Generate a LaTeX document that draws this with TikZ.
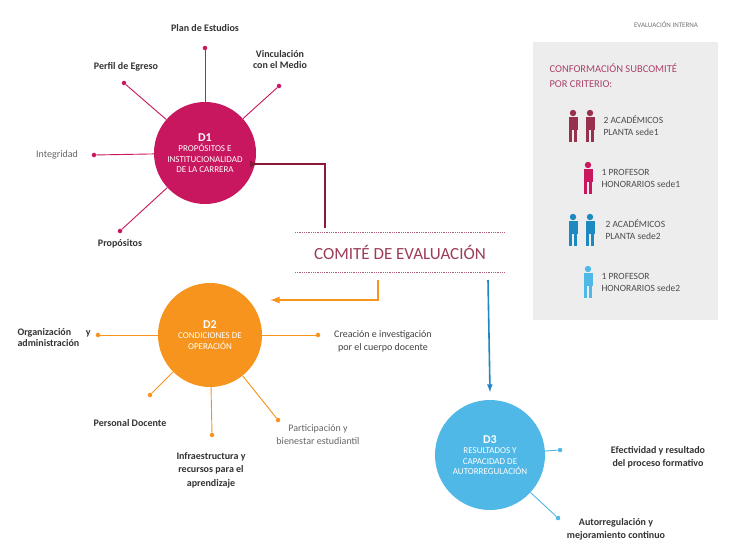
\documentclass[tikz,border=0pt]{standalone}
\usepackage{fontspec}
\setmainfont{Carlito}
\begin{document}
\begin{tikzpicture}[x=1pt,y=-1pt,
 lbl/.style={font=\fontsize{10}{11}\selectfont\bfseries,text=black!80,align=center},
 lblr/.style={font=\fontsize{10}{11}\selectfont,text=black!60,align=center},
 circtxt/.style={circle,text=white,align=center,font=\fontsize{9}{10.5}\selectfont},
 spoke/.style={line width=0.9pt},
 dot/.style={circle,fill,inner sep=1.6pt},
 ptxt/.style={font=\fontsize{9.5}{12}\selectfont,text=black!70,align=left,anchor=west},
 pics/person/.style={code={
   \fill (0,-13) circle (3.2);
   \fill (-4.5,-9) rectangle (4.5,4);
   \fill (-4,3) rectangle (-0.6,16);
   \fill (0.6,3) rectangle (4,16);}}]
\definecolor{mag}{HTML}{C8175E}
\definecolor{dred}{HTML}{8B1A3A}
\definecolor{ora}{HTML}{F7941D}
\definecolor{dblue}{HTML}{1E88C0}
\definecolor{lblue}{HTML}{50B8E6}
\useasboundingbox (0,0) rectangle (744,559);
\fill[white] (0,0) rectangle (744,559);
% right panel
\fill[black!7] (533,42) rectangle (718,320);
\node[font=\fontsize{7}{8}\selectfont,text=black!55] (ei) at (666,25) {EVALUACIÓN INTERNA};
\node[ptxt,text=mag!75!black!80,font=\fontsize{10.5}{15}\selectfont] (tt) at (546,76) {CONFORMACIÓN SUBCOMITÉ\\POR CRITERIO:};
\pic[fill=dred!90] at (573,126) {person};
\pic[fill=dred!90] at (590,126) {person};
\node[ptxt] (p1) at (600,126) {2 ACADÉMICOS\\PLANTA sede1};
\pic[fill=mag] at (588,178) {person};
\node[ptxt] (p2) at (598,178) {1 PROFESOR\\HONORARIOS sede1};
\pic[fill=dblue] at (573,230) {person};
\pic[fill=dblue] at (590,230) {person};
\node[ptxt] (p3) at (602,230) {2 ACADÉMICOS\\PLANTA sede2};
\pic[fill=lblue] at (588,282) {person};
\node[ptxt] (p4) at (598,282) {1 PROFESOR\\HONORARIOS sede2};
% circles
\node[circtxt,fill=mag,minimum size=102] (d1) at (205,153) {\textbf{\fontsize{12}{13}\selectfont D1}\\PROPÓSITOS E\\INSTITUCIONALIDAD\\DE LA CARRERA};
\node[circtxt,fill=ora,minimum size=104] (d2) at (210,335) {\textbf{\fontsize{12}{13}\selectfont D2}\\CONDICIONES DE\\OPERACIÓN};
\node[circtxt,fill=lblue,minimum size=110] (d3) at (490,455) {\textbf{\fontsize{12}{13}\selectfont D3}\\RESULTADOS Y\\CAPACIDAD DE\\AUTORREGULACIÓN};
% D1 spokes
\begin{scope}[mag]
\node[dot] (a1) at (205,48) {}; \node[lbl] (la1) at (205,28) {Plan de Estudios};
\node[dot] (a2) at (124,83) {}; \node[lbl] (la2) at (126,67) {Perfil de Egreso};
\node[dot] (a3) at (279,86) {}; \node[lbl] (la3) at (280,60) {Vinculación\\con el Medio};
\node[dot] (a4) at (94,155) {}; \node[lblr] (la4) at (57,155) {Integridad};
\node[dot] (a5) at (120,231) {}; \node[lbl] (la5) at (120,244) {Propósitos};
\foreach \n in {a1,a2,a3,a4,a5} \draw[spoke] (d1) -- (\n);
\end{scope}
% D2 spokes
\begin{scope}[ora]
\node[dot] (b1) at (98,335) {}; \node[lbl,align=left,anchor=west] (lb1) at (14,338) {Organización\quad\ \ y\\administración};
\node[dot] (b2) at (318,335) {}; \node[lblr,font=\fontsize{10}{13}\selectfont,text=black!75] (lb2) at (383,341) {Creación e investigación\\por el cuerpo docente};
\node[dot] (b3) at (150,395) {}; \node[lbl] (lb3) at (130,423) {Personal Docente};
\node[dot] (b4) at (212,435) {}; \node[lbl,font=\fontsize{10}{13.5}\selectfont\bfseries] (lb4) at (211,470) {Infraestructura y\\recursos para el\\aprendizaje};
\node[dot] (b5) at (278,420) {}; \node[lblr,font=\fontsize{10}{13}\selectfont] (lb5) at (318,435) {Participación y\\bienestar estudiantil};
\foreach \n in {b1,b2,b3,b4,b5} \draw[spoke] (d2) -- (\n);
\end{scope}
% D3 spokes
\begin{scope}[lblue]
\node[dot] (c1) at (560,450) {}; \node[lbl,font=\fontsize{10}{13}\selectfont\bfseries] (lc1) at (658,457) {Efectividad y resultado\\del proceso formativo};
\node[dot] (c2) at (558,518) {}; \node[lbl,font=\fontsize{10}{13}\selectfont\bfseries] (lc2) at (616,529) {Autorregulación y\\mejoramiento continuo};
\foreach \n in {c1,c2} \draw[spoke] (d3) -- (\n);
\end{scope}
% comite
\node[text=dred!85,font=\fontsize{17}{18}\selectfont] (com) at (400,252) {COMITÉ DE EVALUACIÓN};
\coordinate (cl1) at (295,232); \coordinate (cr1) at (505,232);
\coordinate (cl2) at (295,272); \coordinate (cr2) at (505,272);
\draw[dred!70,densely dotted,line width=0.8pt] (cl1) -- (cr1) (cl2) -- (cr2);
\coordinate (s1) at (325,228); \coordinate (s2) at (378,280); \coordinate (s3) at (488,280);
\draw[dred,line width=2.2pt,-latex] (s1) |- (d1.east|-0,164) -- ([xshift=3]d1.east|-0,164);
\draw[ora,line width=2.2pt,-latex] (s2) |- ([xshift=8]d2.east|-0,300);
\draw[dblue,line width=1.6pt,-latex] (s3) -- (d3.north|-0,392);
\end{tikzpicture}
\end{document}
